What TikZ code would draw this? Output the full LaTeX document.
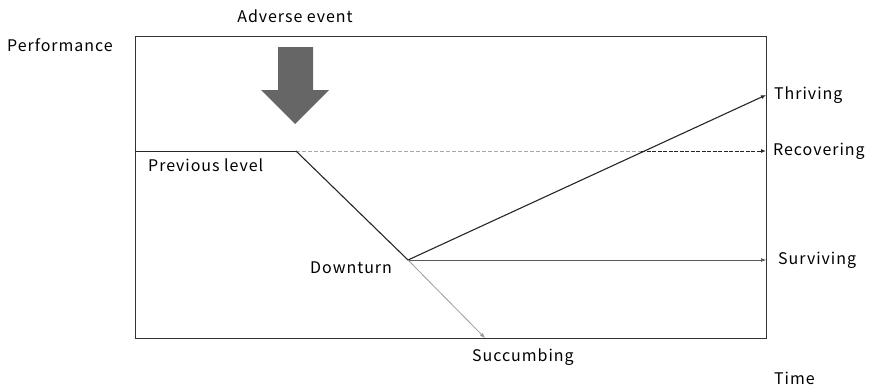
\documentclass[tikz,border=0pt]{standalone}
\usepackage{fontspec}
\setmainfont[LetterSpace=6]{Noto Sans CJK JP}
\usetikzlibrary{arrows.meta}
\begin{document}
\begin{tikzpicture}[x=1pt,y=-1pt,
  lbl/.style={inner sep=0pt, font=\fontsize{16}{18}\selectfont},
  tip/.style={-{Latex[length=5pt,width=4pt]}},
  path1/.style={draw=black!85, line width=1.1pt},
  thin/.style={draw=black!65, line width=0.6pt},
  faint/.style={draw=black!40, line width=0.8pt}]
\useasboundingbox (0,0) rectangle (872,388);
% frame
\draw[black!80, line width=0.8pt] (135,36) rectangle (766,338);
% axis labels
\node[lbl, anchor=west] (perf) at (7,45) {Performance};
\node[lbl] (adv) at (295,16) {Adverse event};
\node[lbl, anchor=west] (time) at (774,378) {Time};
% adverse event arrow
\fill[black!60] (278,47) -- (313,47) -- (313,90) -- (329,90) -- (295,124)
  -- (261,90) -- (278,90) -- cycle;
% key points
\coordinate (start) at (135,151);
\coordinate (drop) at (296,151);
\coordinate (low) at (408,260);
\coordinate (cross) at (641,151);
\coordinate (thr) at (766,95);
\coordinate (rec) at (766,151);
\coordinate (sur) at (766,260);
\coordinate (suc) at (485,338);
% previous level reference
\draw[black!35, dashed, dash pattern=on 4pt off 2pt, line width=0.7pt] (drop) -- (cross);
\draw[path1, line width=0.9pt] (start) -- (drop);
\draw[path1] (drop) -- (low);
% outcomes
\draw[path1, tip] (low) -- (thr);
\draw[black!85, line width=1pt, dashed, dash pattern=on 4pt off 1.5pt, tip] (cross) -- (rec);
\draw[thin, tip] (low) -- (sur);
\draw[faint, tip] (low) -- (suc);
% labels
\node[lbl, anchor=west] (prev) at (148,165) {Previous level};
\node[lbl, anchor=west] (down) at (310,268) {Downturn};
\node[lbl, anchor=west] (thrl) at (774,95) {Thriving};
\node[lbl, anchor=west] (recl) at (773,151) {Recovering};
\node[lbl, anchor=west] (surl) at (778,260) {Surviving};
\node[lbl, anchor=west] (sucl) at (472,357) {Succumbing};
\end{tikzpicture}
\end{document}
